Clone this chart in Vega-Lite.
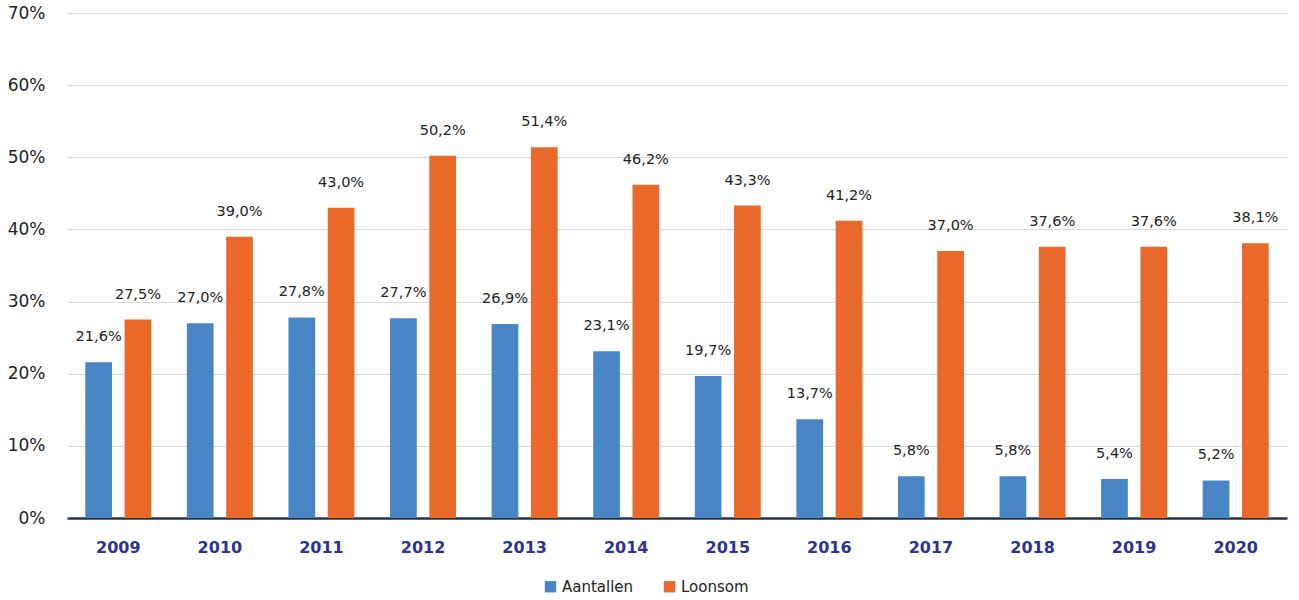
{
  "$schema": "https://vega.github.io/schema/vega-lite/v6.json",
  "width": 1220,
  "height": 505,
  "autosize": {"type": "none"},
  "padding": {"left": 67, "top": 13, "right": 12, "bottom": 82},
  "config": {
    "locale": {"number": {"decimal": ",", "thousands": ".", "grouping": [3], "currency": ["€", ""]}},
    "view": {"stroke": null},
    "font": "DejaVu Sans"
  },
  "data": {
    "values": [
      {"jaar": "2009", "reeks": "Aantallen", "waarde": 0.216},
      {"jaar": "2010", "reeks": "Aantallen", "waarde": 0.270},
      {"jaar": "2011", "reeks": "Aantallen", "waarde": 0.278},
      {"jaar": "2012", "reeks": "Aantallen", "waarde": 0.277},
      {"jaar": "2013", "reeks": "Aantallen", "waarde": 0.269},
      {"jaar": "2014", "reeks": "Aantallen", "waarde": 0.231},
      {"jaar": "2015", "reeks": "Aantallen", "waarde": 0.197},
      {"jaar": "2016", "reeks": "Aantallen", "waarde": 0.137},
      {"jaar": "2017", "reeks": "Aantallen", "waarde": 0.058},
      {"jaar": "2018", "reeks": "Aantallen", "waarde": 0.058},
      {"jaar": "2019", "reeks": "Aantallen", "waarde": 0.054},
      {"jaar": "2020", "reeks": "Aantallen", "waarde": 0.052},
      {"jaar": "2009", "reeks": "Loonsom", "waarde": 0.275},
      {"jaar": "2010", "reeks": "Loonsom", "waarde": 0.390},
      {"jaar": "2011", "reeks": "Loonsom", "waarde": 0.430},
      {"jaar": "2012", "reeks": "Loonsom", "waarde": 0.502},
      {"jaar": "2013", "reeks": "Loonsom", "waarde": 0.514},
      {"jaar": "2014", "reeks": "Loonsom", "waarde": 0.462},
      {"jaar": "2015", "reeks": "Loonsom", "waarde": 0.433},
      {"jaar": "2016", "reeks": "Loonsom", "waarde": 0.412},
      {"jaar": "2017", "reeks": "Loonsom", "waarde": 0.370},
      {"jaar": "2018", "reeks": "Loonsom", "waarde": 0.376},
      {"jaar": "2019", "reeks": "Loonsom", "waarde": 0.376},
      {"jaar": "2020", "reeks": "Loonsom", "waarde": 0.381}
    ]
  },
  "encoding": {
    "x": {
      "field": "jaar", "type": "nominal",
      "scale": {"paddingInner": 0.35, "paddingOuter": 0.18},
      "axis": {
        "title": null, "labelAngle": 0, "labelFontWeight": "bold", "labelFontSize": 16,
        "labelColor": "#2e3192", "labelPadding": 21, "ticks": false,
        "domainColor": "#243447", "domainWidth": 2.5, "grid": false
      }
    },
    "xOffset": {"field": "reeks", "type": "nominal", "scale": {"paddingInner": 0.32}},
    "y": {
      "field": "waarde", "type": "quantitative",
      "scale": {"domain": [0, 0.7], "nice": false},
      "axis": {
        "title": null, "format": ".0%", "values": [0, 0.1, 0.2, 0.3, 0.4, 0.5, 0.6, 0.7],
        "labelOverlap": false,
        "domain": false, "ticks": false, "labelFontSize": 17, "labelColor": "#222222",
        "labelPadding": 22, "gridColor": "#d9d9d9", "gridWidth": 1.2
      }
    }
  },
  "layer": [
    {
      "mark": {"type": "bar"},
      "encoding": {
        "color": {
          "field": "reeks", "type": "nominal",
          "scale": {"domain": ["Aantallen", "Loonsom"], "range": ["#4a86c6", "#e8692a"]},
          "legend": {
            "title": null, "orient": "none", "legendX": 476, "legendY": 566,
            "direction": "horizontal", "symbolType": "square",
            "symbolSize": 130, "labelFontSize": 15, "labelColor": "#222222",
            "columnPadding": 28, "symbolStrokeWidth": 0
          }
        }
      }
    },
    {
      "mark": {"type": "text", "dy": -25, "fontSize": 14.5, "color": "#222222"},
      "encoding": {
        "text": {"field": "waarde", "type": "quantitative", "format": ".1%"}
      }
    }
  ]
}
